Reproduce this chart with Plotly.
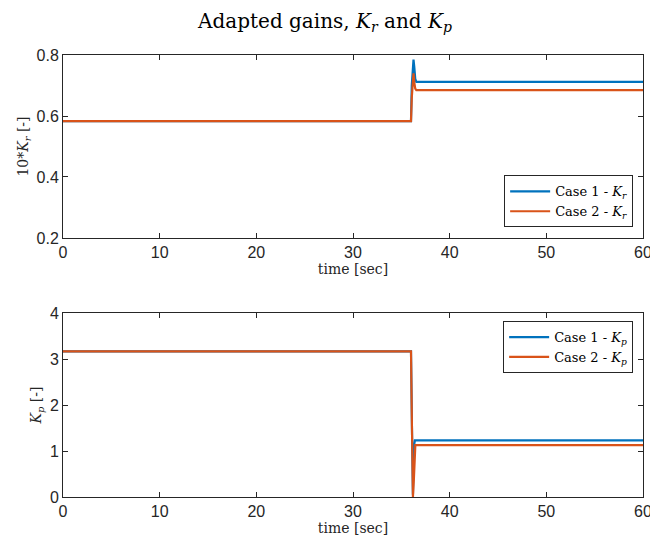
import plotly.graph_objects as go
from plotly.subplots import make_subplots

# Top panel: 10*Kr
t_kr1 = [0, 36.0, 36.08, 36.18, 36.26, 36.34, 36.44, 36.55, 60]
kr_case1 = [0.583, 0.583, 0.70, 0.78, 0.785, 0.76, 0.722, 0.712, 0.712]
t_kr2 = [0, 36.0, 36.08, 36.18, 36.26, 36.34, 36.44, 36.55, 60]
kr_case2 = [0.583, 0.583, 0.66, 0.73, 0.74, 0.71, 0.69, 0.685, 0.685]

# Bottom panel: Kp
t_kp1 = [0, 36.0, 36.1, 36.2, 36.3, 36.4, 60]
kp_case1 = [3.17, 3.17, 1.5, 0.05, 1.1, 1.23, 1.23]
t_kp2 = [0, 36.0, 36.1, 36.2, 36.3, 36.45, 60]
kp_case2 = [3.17, 3.17, 1.5, 0.0, 0.4, 1.13, 1.13]

x_ticks = [0, 10, 20, 30, 40, 50, 60]
kr_ticks = [0.2, 0.4, 0.6, 0.8]
kp_ticks = [0, 1, 2, 3, 4]

blue = "#0072BD"
orange = "#D95319"

fig = make_subplots(rows=2, cols=1, vertical_spacing=0.17)

fig.add_trace(go.Scatter(x=t_kr1, y=kr_case1, mode="lines", line=dict(color=blue, width=2.2),
                         name="Case 1 - <i>K<sub>r</sub></i>", legend="legend"), row=1, col=1)
fig.add_trace(go.Scatter(x=t_kr2, y=kr_case2, mode="lines", line=dict(color=orange, width=2.2),
                         name="Case 2 - <i>K<sub>r</sub></i>", legend="legend"), row=1, col=1)
fig.add_trace(go.Scatter(x=t_kp1, y=kp_case1, mode="lines", line=dict(color=blue, width=2.2),
                         name="Case 1 - <i>K<sub>p</sub></i>", legend="legend2"), row=2, col=1)
fig.add_trace(go.Scatter(x=t_kp2, y=kp_case2, mode="lines", line=dict(color=orange, width=2.2),
                         name="Case 2 - <i>K<sub>p</sub></i>", legend="legend2"), row=2, col=1)

axcolor = "#262626"
serif = "DejaVu Serif"
sans = "Liberation Sans"

common_ax = dict(showline=True, linecolor=axcolor, linewidth=1, mirror="ticks",
                 ticks="inside", ticklen=5, tickcolor=axcolor, showgrid=False, zeroline=False,
                 automargin=False, ticklabeloverflow="allow",
                 tickfont=dict(family=sans, size=16, color=axcolor))

fig.update_xaxes(range=[0, 60], tickvals=x_ticks, **common_ax)
fig.update_xaxes(title=dict(text="time [sec]", font=dict(family=serif, size=14, color=axcolor), standoff=1), row=1, col=1)
fig.update_xaxes(title=dict(text="time [sec]", font=dict(family=serif, size=14, color=axcolor), standoff=1), row=2, col=1)
fig.update_yaxes(range=[0.2, 0.8], tickvals=kr_ticks, tickformat=".1f",
                 title=dict(text="10*<i>K<sub>r</sub></i> [-]", font=dict(family=serif, size=14, color=axcolor), standoff=4),
                 row=1, col=1, **common_ax)
fig.update_yaxes(range=[0, 4], tickvals=kp_ticks,
                 title=dict(text="<i>K<sub>p</sub></i> [-]", font=dict(family=serif, size=14, color=axcolor), standoff=4),
                 row=2, col=1, **common_ax)

leg_common = dict(bordercolor=axcolor, borderwidth=1, bgcolor="white",
                  font=dict(family=serif, size=13, color="black"), tracegroupgap=0, itemwidth=40)

fig.update_layout(
    width=650, height=546,
    plot_bgcolor="white", paper_bgcolor="white",
    margin=dict(l=63, r=7, t=55, b=49),
    title=dict(text="Adapted gains, <i>K<sub>r</sub></i> and <i>K<sub>p</sub></i>",
               x=0.5, xanchor="center", y=0.975, yanchor="top",
               font=dict(family=serif, size=20, color="black")),
    legend=dict(x=0.983, y=0.61, xanchor="right", yanchor="bottom", **leg_common),
    legend2=dict(x=0.983, y=0.398, xanchor="right", yanchor="top", **leg_common),
    showlegend=True,
)
fig.update_layout(yaxis=dict(domain=[0.586, 1.0]), yaxis2=dict(domain=[0.0, 0.416]))

fig.write_html("out.html", post_script="document.body.style.margin='0';",
               config={"displayModeBar": False})
